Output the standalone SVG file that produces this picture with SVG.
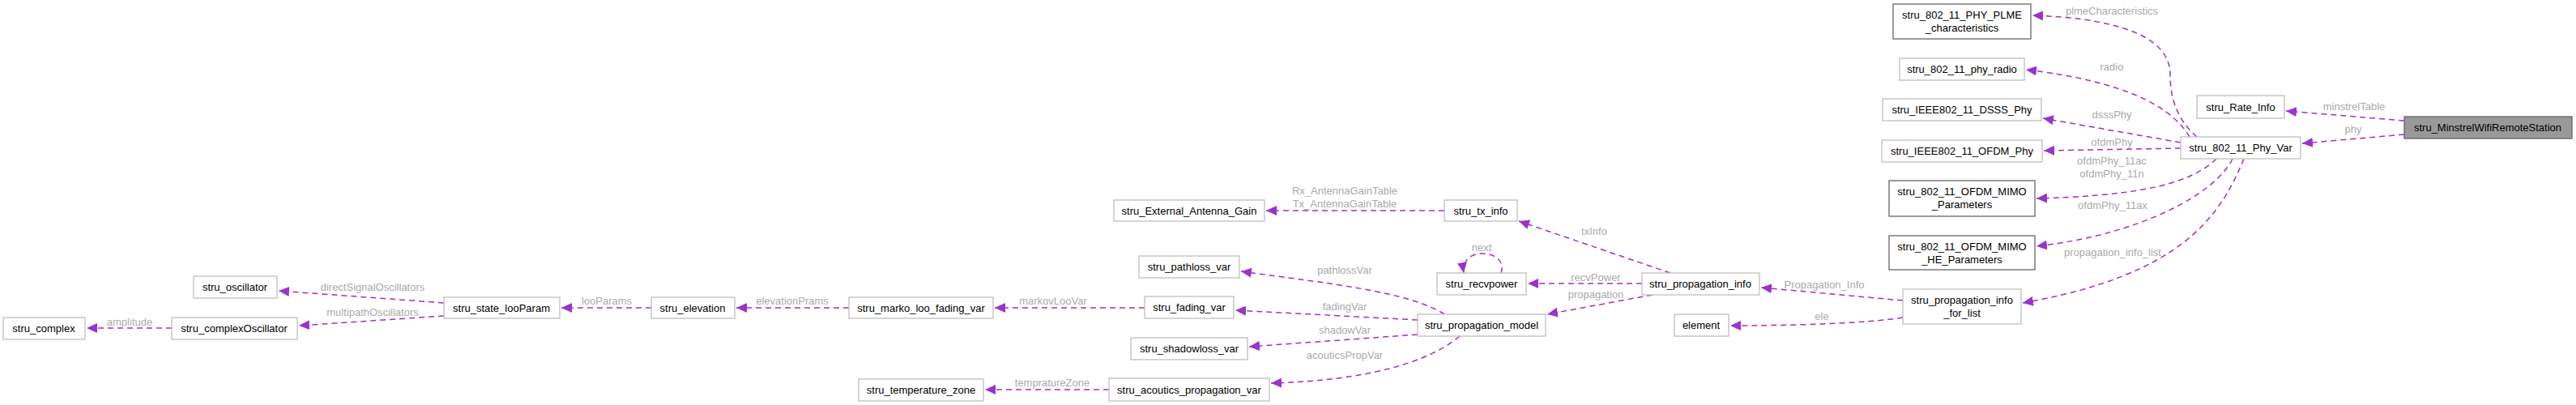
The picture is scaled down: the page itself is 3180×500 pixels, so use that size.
<svg xmlns="http://www.w3.org/2000/svg" width="3180" height="500" viewBox="0 0 3180 500">
<style>
.n rect{fill:#fff;stroke:#bfbfbf;stroke-width:1.3}
.n.d rect{stroke:#666}
.n.m rect{fill:#999;stroke:#666}
text{font-family:"Liberation Sans",Arial,sans-serif;font-size:13px}
.n text{fill:#000;text-anchor:middle}
.e path{fill:none;stroke:#9a32cd;stroke-width:1.5;stroke-dasharray:7,5;marker-end:url(#a)}
.e text{fill:#aaa;text-anchor:middle}
</style>
<defs><marker id="a" markerUnits="userSpaceOnUse" markerWidth="14" markerHeight="12" refX="13" refY="6" orient="auto"><path d="M0,0L13,6L0,12z" fill="#9a32cd" stroke="none"/></marker></defs>
<rect width="3180" height="500" fill="#fff"/>
<g class="e">
<path d="M2968,149 L2822,137"/><text x="2906" y="136">minstrelTable</text>
<path d="M2968,166 L2842,177"/><text x="2905" y="164">phy</text>
<path d="M2712,169 C2690,150 2679,125 2679,92 C2679,40 2600,22 2509,19"/><text x="2607" y="18">plmeCharacteristics</text>
<path d="M2703,169 C2680,130 2620,100 2501,86"/><text x="2607" y="87">radio</text>
<path d="M2692,176 L2522,146"/><text x="2607" y="146">dsssPhy</text>
<path d="M2692,183 L2523,186"/><text x="2607" y="180">ofdmPhy</text>
<path d="M2736,196 C2700,232 2620,242 2514,245"/><text x="2607" y="203">ofdmPhy_11ac</text><text x="2607" y="219">ofdmPhy_11n</text>
<path d="M2756,196 C2735,240 2640,290 2514,304"/><text x="2608" y="258">ofdmPhy_11ax</text>
<path d="M2770,196 C2740,270 2690,340 2497,374"/><text x="2608" y="316">propagation_info_list</text>
<path d="M2349,371 L2174,355"/><text x="2252" y="356">Propagation_Info</text>
<path d="M2349,392 C2300,400 2200,402 2136,402"/><text x="2249" y="395">ele</text>
<path d="M2062,337 L1875,273"/><text x="1968" y="290">txInfo</text>
<path d="M2027,350 L1886,350"/><text x="1970" y="347">recvPower</text>
<path d="M2040,364 L1910,388"/><text x="1970" y="368">propagation</text>
<path d="M1853,337 C1858,322 1845,313 1830,313 C1812,313 1805,325 1807,337"/><text x="1829" y="310">next</text>
<path d="M1783,260 L1563,260"/><text x="1660" y="240">Rx_AntennaGainTable</text><text x="1660" y="256">Tx_AntennaGainTable</text>
<path d="M1783,388 C1740,360 1640,350 1532,335"/><text x="1660" y="338">pathlossVar</text>
<path d="M1750,395 L1525,383"/><text x="1660" y="383">fadingVar</text>
<path d="M1750,413 L1542,428"/><text x="1660" y="412">shadowVar</text>
<path d="M1802,415 C1760,450 1680,470 1569,473"/><text x="1660" y="443">acouticsPropVar</text>
<path d="M1413,380 L1228,380"/><text x="1300" y="376">markovLooVar</text>
<path d="M1048,380 L909,380"/><text x="978" y="376">elevationPrams</text>
<path d="M804,380 L693,380"/><text x="749" y="376">looParams</text>
<path d="M548,374 L344,359"/><text x="460" y="359">directSignalOscillators</text>
<path d="M548,390 L369,402"/><text x="460" y="390">multipathOscillators</text>
<path d="M212,405 L107,405"/><text x="160" y="402">amplitude</text>
<path d="M1369,481 L1216,481"/><text x="1299" y="477">tempratureZone</text>
</g>
<g id="n_minstrel" class="n m"><rect x="2968" y="144" width="207" height="27"/><text x="3071" y="162">stru_MinstrelWifiRemoteStation</text></g>
<g id="n_rate" class="n"><rect x="2712" y="118" width="108" height="28"/><text x="2766" y="137">stru_Rate_Info</text></g>
<g id="n_phyvar" class="n"><rect x="2692" y="169" width="148" height="27"/><text x="2766" y="187">stru_802_11_Phy_Var</text></g>
<g id="n_plme" class="n d"><rect x="2337" y="5" width="170" height="43"/><text x="2422" y="23">stru_802_11_PHY_PLME</text><text x="2422" y="39">_characteristics</text></g>
<g id="n_radio" class="n"><rect x="2345" y="72" width="154" height="27"/><text x="2422" y="90">stru_802_11_phy_radio</text></g>
<g id="n_dsss" class="n"><rect x="2324" y="122" width="196" height="27"/><text x="2422" y="140">stru_IEEE802_11_DSSS_Phy</text></g>
<g id="n_ofdm" class="n"><rect x="2323" y="173" width="198" height="27"/><text x="2422" y="191">stru_IEEE802_11_OFDM_Phy</text></g>
<g id="n_mimo" class="n d"><rect x="2332" y="223" width="180" height="44"/><text x="2422" y="241">stru_802_11_OFDM_MIMO</text><text x="2422" y="257">_Parameters</text></g>
<g id="n_mimohe" class="n d"><rect x="2332" y="291" width="180" height="42"/><text x="2422" y="309">stru_802_11_OFDM_MIMO</text><text x="2422" y="325">_HE_Parameters</text></g>
<g id="n_proplist" class="n"><rect x="2349" y="357" width="146" height="43"/><text x="2422" y="375">stru_propagation_info</text><text x="2422" y="391">_for_list</text></g>
<g id="n_propinfo" class="n"><rect x="2027" y="337" width="145" height="27"/><text x="2099" y="355">stru_propagation_info</text></g>
<g id="n_element" class="n"><rect x="2067" y="388" width="67" height="27"/><text x="2100" y="406">element</text></g>
<g id="n_txinfo" class="n"><rect x="1783" y="247" width="90" height="26"/><text x="1828" y="265">stru_tx_info</text></g>
<g id="n_antenna" class="n"><rect x="1375" y="247" width="186" height="26"/><text x="1468" y="265">stru_External_Antenna_Gain</text></g>
<g id="n_recv" class="n"><rect x="1774" y="337" width="110" height="27"/><text x="1829" y="355">stru_recvpower</text></g>
<g id="n_model" class="n"><rect x="1750" y="388" width="158" height="27"/><text x="1829" y="406">stru_propagation_model</text></g>
<g id="n_pathloss" class="n"><rect x="1406" y="316" width="124" height="27"/><text x="1468" y="334">stru_pathloss_var</text></g>
<g id="n_fading" class="n"><rect x="1413" y="366" width="110" height="27"/><text x="1468" y="384">stru_fading_var</text></g>
<g id="n_shadow" class="n"><rect x="1396" y="417" width="144" height="27"/><text x="1468" y="435">stru_shadowloss_var</text></g>
<g id="n_acoutics" class="n"><rect x="1369" y="467" width="198" height="28"/><text x="1468" y="486">stru_acoutics_propagation_var</text></g>
<g id="n_temp" class="n"><rect x="1060" y="468" width="154" height="27"/><text x="1137" y="486">stru_temperature_zone</text></g>
<g id="n_marko" class="n"><rect x="1048" y="367" width="178" height="26"/><text x="1137" y="385">stru_marko_loo_fading_var</text></g>
<g id="n_elev" class="n"><rect x="804" y="367" width="103" height="26"/><text x="855" y="385">stru_elevation</text></g>
<g id="n_state" class="n"><rect x="548" y="367" width="143" height="26"/><text x="619" y="385">stru_state_looParam</text></g>
<g id="n_osc" class="n"><rect x="239" y="341" width="103" height="27"/><text x="290" y="359">stru_oscillator</text></g>
<g id="n_cosc" class="n"><rect x="212" y="392" width="155" height="27"/><text x="289" y="410">stru_complexOscillator</text></g>
<g id="n_complex" class="n"><rect x="4" y="392" width="101" height="27"/><text x="54" y="410">stru_complex</text></g>
</svg>
